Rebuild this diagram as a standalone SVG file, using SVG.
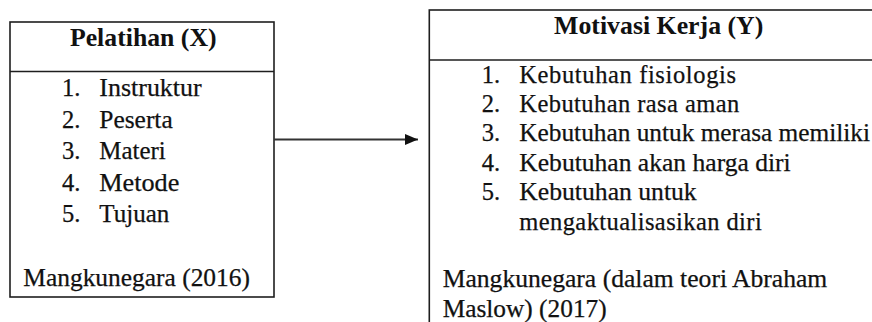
<svg xmlns="http://www.w3.org/2000/svg" width="872" height="322" viewBox="0 0 872 322">
<style>
.box{fill:#fff;stroke:#1e1e1e;stroke-width:1.6}
.div{stroke:#1e1e1e;stroke-width:1.6}
text{fill:#111;font-family:"Liberation Serif","Times New Roman",serif}
.t{font-size:25px;font-weight:bold}
.b{font-size:24.5px;stroke:#111;stroke-width:0.25}
.conn{stroke:#333;stroke-width:1.8;fill:none}
</style>
<defs>
<marker id="ah" markerUnits="userSpaceOnUse" markerWidth="14" markerHeight="12" refX="13" refY="6" orient="auto">
<path d="M0,0.5 L13,6 L0,11.5 Z" fill="#111"/>
</marker>
</defs>
<rect width="872" height="322" fill="#fff"/>
<g id="node-x">
<rect class="box" x="10" y="22" width="264" height="275"/>
<line class="div" x1="10" y1="71.5" x2="274" y2="71.5"/>
<text class="t" x="143.3" y="46" text-anchor="middle" textLength="146.7" lengthAdjust="spacingAndGlyphs">Pelatihan (X)</text>
<text class="b" x="62" y="96">1.</text>
<text class="b" x="99.3" y="96" textLength="102.4" lengthAdjust="spacingAndGlyphs">Instruktur</text>
<text class="b" x="62" y="127.5">2.</text>
<text class="b" x="99.3" y="127.5" textLength="73.4" lengthAdjust="spacingAndGlyphs">Peserta</text>
<text class="b" x="62" y="159">3.</text>
<text class="b" x="99.3" y="159" textLength="66.4" lengthAdjust="spacingAndGlyphs">Materi</text>
<text class="b" x="62" y="190.5">4.</text>
<text class="b" x="99.3" y="190.5" textLength="80" lengthAdjust="spacingAndGlyphs">Metode</text>
<text class="b" x="62" y="222">5.</text>
<text class="b" x="99.3" y="222" textLength="70" lengthAdjust="spacingAndGlyphs">Tujuan</text>
<text class="b" x="23.3" y="286" textLength="226.7" lengthAdjust="spacingAndGlyphs">Mangkunegara (2016)</text>
</g>
<g id="node-y">
<rect class="box" x="429.3" y="10" width="460" height="330"/>
<line class="div" x1="429.3" y1="60" x2="880" y2="60"/>
<text class="t" x="658.7" y="33.5" text-anchor="middle" textLength="209.3" lengthAdjust="spacingAndGlyphs">Motivasi Kerja (Y)</text>
<text class="b" x="481.7" y="82.7">1.</text>
<text class="b" x="519.3" y="82.7" textLength="216.7" lengthAdjust="spacing">Kebutuhan  fisiologis</text>
<text class="b" x="481.7" y="111.8">2.</text>
<text class="b" x="519.3" y="111.8" textLength="220" lengthAdjust="spacing">Kebutuhan rasa  aman</text>
<text class="b" x="481.7" y="141">3.</text>
<text class="b" x="519.3" y="141" textLength="350.7" lengthAdjust="spacingAndGlyphs">Kebutuhan untuk merasa memiliki</text>
<text class="b" x="481.7" y="170.5">4.</text>
<text class="b" x="519.3" y="170.5" textLength="271.4" lengthAdjust="spacingAndGlyphs">Kebutuhan akan harga diri</text>
<text class="b" x="481.7" y="200">5.</text>
<text class="b" x="519.3" y="200" textLength="177.4" lengthAdjust="spacingAndGlyphs">Kebutuhan untuk</text>
<text class="b" x="519.3" y="229.5" textLength="242.4" lengthAdjust="spacing">mengaktualisasikan  diri</text>
<text class="b" x="442.7" y="287" textLength="384.6" lengthAdjust="spacingAndGlyphs">Mangkunegara (dalam teori Abraham</text>
<text class="b" x="442.7" y="316.5" textLength="164" lengthAdjust="spacingAndGlyphs">Maslow) (2017)</text>
</g>
<g id="connectors">
<line class="conn" x1="274" y1="139.5" x2="418" y2="139.5" marker-end="url(#ah)"/>
</g>
</svg>
